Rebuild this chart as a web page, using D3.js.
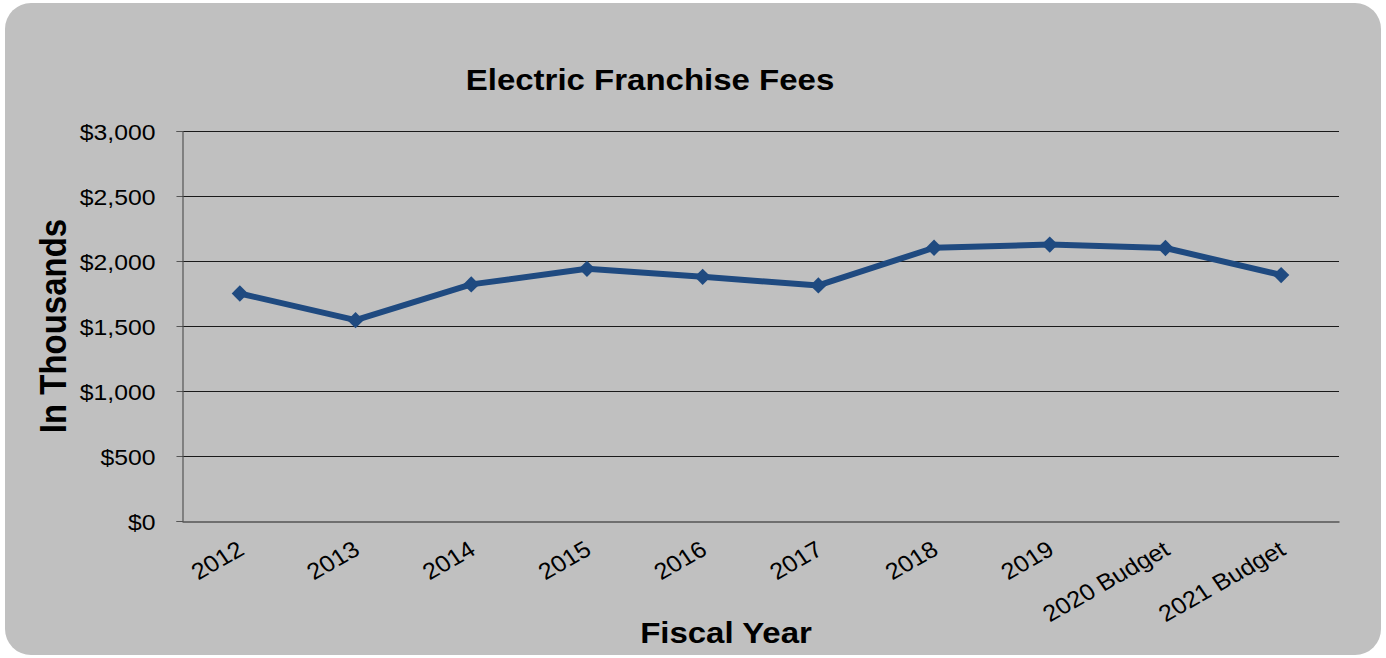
<!DOCTYPE html>
<html>
<head>
<meta charset="utf-8">
<script src="https://cdn.jsdelivr.net/npm/d3@7"></script>
<style>
  html, body { margin: 0; padding: 0; background: #ffffff; }
  svg { display: block; font-family: "Liberation Sans", Arial, sans-serif; }
</style>
</head>
<body>
<svg id="chart" width="1386" height="658"></svg>
<script>
// Fiscal years and electric franchise fee revenue (in thousands of dollars)
const years = ["2012", "2013", "2014", "2015", "2016", "2017", "2018", "2019", "2020 Budget", "2021 Budget"];
const fees = [1750, 1545, 1820, 1940, 1878, 1812, 2102, 2126, 2100, 1892];
const yTicks = [0, 500, 1000, 1500, 2000, 2500, 3000];

const svg = d3.select("#chart");
const W = 1386, H = 658;
const SX = 1.1; // slight horizontal widening of the lettering

// Rounded grey panel behind the chart
svg.append("rect")
  .attr("x", 5).attr("y", 3)
  .attr("width", W - 10).attr("height", H - 6)
  .attr("rx", 26).attr("ry", 26)
  .attr("fill", "#c0c0c0");

const plot = { left: 182, right: 1339, top: 131, bottom: 521 };

const x = d3.scaleBand().domain(years).range([plot.left, plot.right]);
const y = d3.scaleLinear().domain([0, 3000]).range([plot.bottom, plot.top]);

// Horizontal gridlines
svg.append("g")
  .selectAll("line")
  .data(yTicks.filter(d => d > 0))
  .join("line")
  .attr("x1", plot.left).attr("x2", plot.right)
  .attr("y1", d => y(d) + 0.5).attr("y2", d => y(d) + 0.5)
  .attr("stroke", "#1a1a1a").attr("stroke-width", 1);

// Y axis with dollar labels
const yAxis = svg.append("g")
  .attr("transform", `translate(${plot.left + 0.5},0)`)
  .call(d3.axisLeft(y).tickValues(yTicks).tickSize(6).tickPadding(0)
    .tickFormat(d => "$" + d3.format(",")(d)));
yAxis.select(".domain").attr("stroke", "#555555").attr("stroke-width", 1.2);
yAxis.selectAll(".tick line").attr("stroke", "#555555");
yAxis.selectAll(".tick text")
  .attr("fill", "#000").attr("font-size", 22.5)
  .attr("font-family", "Liberation Sans, Arial, sans-serif")
  .attr("x", 0).attr("dy", "0.36em")
  .attr("transform", `translate(-27,0) scale(${SX},1)`);

// X axis baseline
const xAxis = svg.append("g")
  .attr("transform", `translate(0,${plot.bottom + 0.5})`)
  .call(d3.axisBottom(x).tickSize(0).tickPadding(0));
xAxis.select(".domain").attr("stroke", "#555555").attr("stroke-width", 1.5);
xAxis.selectAll(".tick text")
  .attr("fill", "#000").attr("font-size", 23)
  .attr("font-family", "Liberation Sans, Arial, sans-serif")
  .attr("text-anchor", "end")
  .attr("y", 0).attr("dy", 0)
  .attr("transform", `translate(6,32) scale(${SX},1) rotate(-32)`);

// Fee trend line
const line = d3.line()
  .x((d, i) => x(years[i]) + x.bandwidth() / 2)
  .y(d => y(d));

svg.append("path")
  .datum(fees)
  .attr("d", line)
  .attr("fill", "none")
  .attr("stroke", "#1f4a80")
  .attr("stroke-width", 6)
  .attr("stroke-linejoin", "round");

// Diamond markers
svg.append("g")
  .selectAll("path")
  .data(fees)
  .join("path")
  .attr("transform", (d, i) => `translate(${x(years[i]) + x.bandwidth() / 2},${y(d)})`)
  .attr("d", d3.symbol().type(d3.symbolDiamond2).size(170))
  .attr("fill", "#1f4a80");

// Title
svg.append("text")
  .attr("transform", `translate(650,90) scale(${SX},1)`)
  .attr("text-anchor", "middle")
  .attr("font-size", 30).attr("font-weight", "bold")
  .text("Electric Franchise Fees");

// Axis titles
svg.append("text")
  .attr("transform", `translate(726,643) scale(${SX},1)`)
  .attr("text-anchor", "middle")
  .attr("font-size", 30).attr("font-weight", "bold")
  .text("Fiscal Year");

svg.append("text")
  .attr("transform", `translate(66,326) scale(${SX},1) rotate(-90)`)
  .attr("text-anchor", "middle")
  .attr("font-size", 33).attr("font-weight", "bold")
  .text("In Thousands");
</script>
</body>
</html>
